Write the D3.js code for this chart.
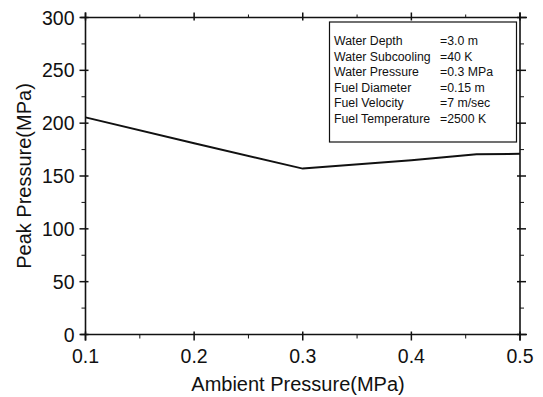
<!DOCTYPE html>
<html><head><meta charset="utf-8">
<script src="https://cdn.jsdelivr.net/npm/d3@7"></script>
<style>body{margin:0;background:#fff}svg{display:block}text{font-family:"Liberation Sans",Arial,sans-serif;fill:#111}</style>
</head><body><svg id="c" width="543" height="397"></svg>
<script>
const ambient = [0.1, 0.2, 0.3, 0.4, 0.46, 0.5];
const peak = [205.5, 181, 157, 165, 170.5, 171];
const xTicks = [0.1, 0.2, 0.3, 0.4, 0.5];
const yTicks = [0, 50, 100, 150, 200, 250, 300];
const legendLabels = ["Water Depth", "Water Subcooling", "Water Pressure", "Fuel Diameter", "Fuel Velocity", "Fuel Temperature"];
const legendValues = ["=3.0 m", "=40 K", "=0.3 MPa", "=0.15 m", "=7 m/sec", "=2500 K"];

const svg = d3.select("#c");
const L = 85.5, R = 520, T = 17.5, B = 334.5;
const x = d3.scaleLinear().domain([0.1, 0.5]).range([L, R]);
const y = d3.scaleLinear().domain([0, 300]).range([B, T]);
const ink = "#111";

const xMinor = d3.range(0.15, 0.5, 0.1);
const yMinor = d3.range(25, 300, 50);
const g = svg.append("g").attr("stroke", ink);
xTicks.forEach(v => {
  g.append("line").attr("x1", x(v)).attr("x2", x(v)).attr("y1", B - 3).attr("y2", B + 6).attr("stroke-width", 1.5);
  g.append("line").attr("x1", x(v)).attr("x2", x(v)).attr("y1", T - 5).attr("y2", T + 3).attr("stroke-width", 1.5);
});
xMinor.forEach(v => {
  g.append("line").attr("x1", x(v)).attr("x2", x(v)).attr("y1", B).attr("y2", B + 4).attr("stroke-width", 1);
  g.append("line").attr("x1", x(v)).attr("x2", x(v)).attr("y1", T - 3).attr("y2", T).attr("stroke-width", 1);
});
yTicks.forEach(v => {
  g.append("line").attr("x1", L - 6).attr("x2", L + 3).attr("y1", y(v)).attr("y2", y(v)).attr("stroke-width", 1.5);
  g.append("line").attr("x1", R - 3).attr("x2", R + 6).attr("y1", y(v)).attr("y2", y(v)).attr("stroke-width", 1.5);
});
yMinor.forEach(v => {
  g.append("line").attr("x1", L - 4).attr("x2", L).attr("y1", y(v)).attr("y2", y(v)).attr("stroke-width", 1);
  g.append("line").attr("x1", R).attr("x2", R + 4).attr("y1", y(v)).attr("y2", y(v)).attr("stroke-width", 1);
});
g.append("line").attr("x1", L - 5).attr("x2", R + 7).attr("y1", T).attr("y2", T).attr("stroke-width", 1.6);
g.append("line").attr("x1", L - 5).attr("x2", R + 7).attr("y1", B).attr("y2", B).attr("stroke-width", 1.6);
g.append("line").attr("x1", L).attr("x2", L).attr("y1", T - 5).attr("y2", B + 6).attr("stroke-width", 1.6);
g.append("line").attr("x1", R).attr("x2", R).attr("y1", T - 5).attr("y2", B + 6).attr("stroke-width", 1.6);

svg.append("g").selectAll("text").data(xTicks).join("text")
  .attr("x", d => x(d)).attr("y", 363).attr("text-anchor", "middle")
  .attr("font-size", 19.5).text(d => d3.format(".1f")(d));
svg.append("g").selectAll("text").data(yTicks).join("text")
  .attr("x", L - 11).attr("y", d => y(d) + 7).attr("text-anchor", "end")
  .attr("font-size", 19.5).text(d => d);

svg.append("text").attr("x", 298).attr("y", 391).attr("text-anchor", "middle")
  .attr("font-size", 20).text("Ambient Pressure(MPa)");
svg.append("text").attr("transform", `translate(31,${(T + B) / 2}) rotate(-90)`)
  .attr("text-anchor", "middle").attr("font-size", 20).text("Peak Pressure(MPa)");

svg.append("path").datum(ambient.map((a, i) => [a, peak[i]]))
  .attr("d", d3.line().x(d => x(d[0])).y(d => y(d[1])))
  .attr("fill", "none").attr("stroke", ink).attr("stroke-width", 2);

const lg = svg.append("g");
lg.append("rect").attr("x", 329.5).attr("y", 22).attr("width", 187).attr("height", 120)
  .attr("fill", "#fff").attr("stroke", ink).attr("stroke-width", 1.2);
legendLabels.forEach((t, i) => {
  lg.append("text").attr("x", 334).attr("y", 45 + i * 15.5).attr("font-size", 12.3).text(t);
  lg.append("text").attr("x", 440).attr("y", 45 + i * 15.5).attr("font-size", 12.3).text(legendValues[i]);
});
</script></body></html>
